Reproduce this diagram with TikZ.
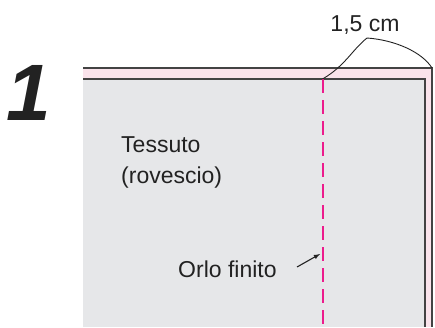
\documentclass[tikz,border=0pt]{standalone}
\usepackage{fontspec}
\setmainfont{Liberation Sans}
\definecolor{fabric}{HTML}{E6E7E9}
\definecolor{hem}{HTML}{FAE3EB}
\definecolor{seamcol}{HTML}{EC1C8C}
\definecolor{ink}{HTML}{222222}
\begin{document}
\begin{tikzpicture}[x=1pt, y=-1pt]
    % Define styles
    \tikzstyle{txt} = [inner sep=0pt, text=ink, font=\fontsize{23}{31}\selectfont]
    \tikzstyle{edgeline} = [draw=ink!85, line width=1.4pt]
    \tikzstyle{seam} = [seamcol, line width=2pt, dash pattern=on 14pt off 7pt]

    \useasboundingbox (0,0) rectangle (435,327);

    % Fabric with folded hem
    \fill[hem] (83,68) rectangle (432,327);
    \fill[fabric] (83,79) rectangle (425,327);
    \draw[edgeline] (83,68) -- (432,68) -- (432,327);
    \draw[edgeline] (83,79) -- (425,79) -- (425,327);

    % Finished hem line
    \coordinate (seamtop) at (322.5,79);
    \coordinate (seambot) at (322.5,327);
    \draw[seam] (seamtop) -- (seambot);

    % Labels
    \node[txt, anchor=base west, font=\fontsize{80}{80}\selectfont\bfseries\itshape] (step1) at (6,120) {1};
    \node[txt, anchor=base] (width) at (365,31) {1,5 cm};
    \node[txt, anchor=base west, align=left] (fabrictxt) at (121,183) {Tessuto\\(rovescio)};
    \node[txt, anchor=base west] (hemtxt) at (178,277) {Orlo finito};

    % Width bracket and arrow
    \coordinate (corner) at (432,68);
    \coordinate (peak) at (367,38);
    \draw[ink, line width=0.9pt] (seamtop) .. controls (345,66) and (352,50) .. (peak)
        .. controls (395,40) and (422,52) .. (corner);
    \coordinate (tail) at (297,267);
    \coordinate (tip) at (320,254);
    \draw[-latex, ink, line width=1.1pt] (tail) -- (tip);
\end{tikzpicture}
\end{document}
